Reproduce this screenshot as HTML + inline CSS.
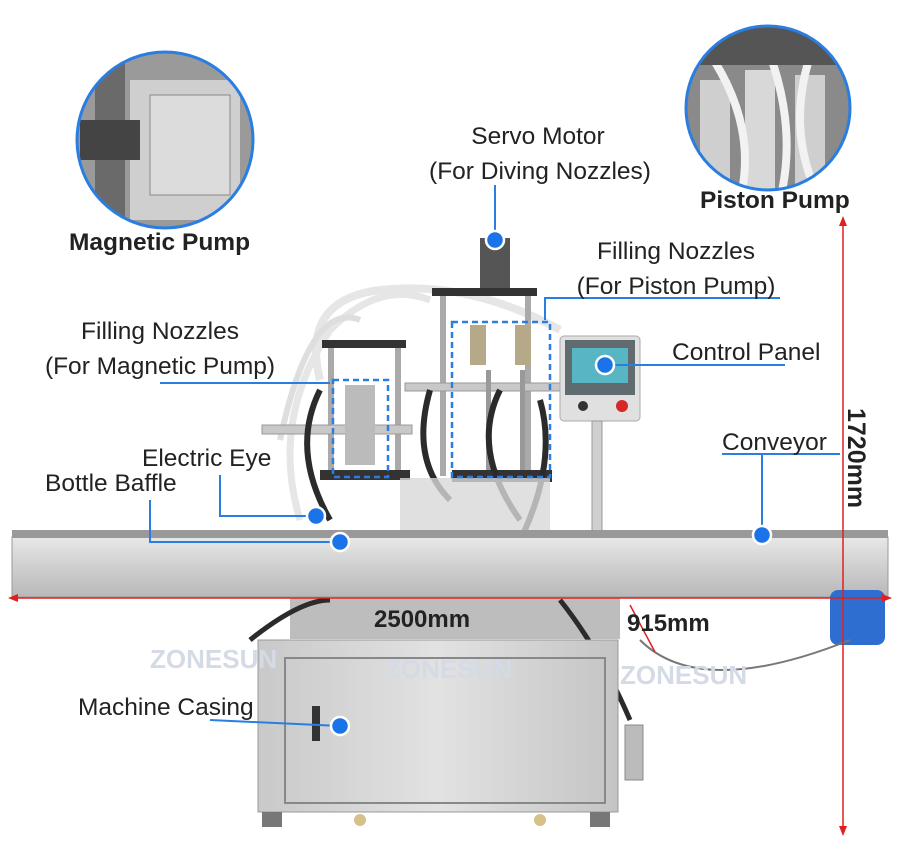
<!DOCTYPE html>
<html><head><meta charset="utf-8"><style>
html,body{margin:0;padding:0;background:#fff;}
svg{display:block}
text{font-family:"Liberation Sans",sans-serif;fill:#222;}
</style></head><body>
<svg width="900" height="864" viewBox="0 0 900 864" xmlns="http://www.w3.org/2000/svg">
<defs>
<linearGradient id="steel" x1="0" y1="0" x2="0" y2="1"><stop offset="0" stop-color="#e8e8e8"/><stop offset="0.5" stop-color="#cfcfcf"/><stop offset="1" stop-color="#b8b8b8"/></linearGradient>
<linearGradient id="cab" x1="0" y1="0" x2="1" y2="0"><stop offset="0" stop-color="#c9c9c9"/><stop offset="0.5" stop-color="#e2e2e2"/><stop offset="1" stop-color="#c4c4c4"/></linearGradient>
<clipPath id="c1"><circle cx="165" cy="140" r="88"/></clipPath>
<clipPath id="c2"><circle cx="768" cy="108" r="82"/></clipPath>
</defs>
<g clip-path="url(#c1)">
<rect x="70" y="40" width="200" height="200" fill="#9a9a9a"/>
<rect x="130" y="80" width="110" height="140" fill="#cfcfcf"/>
<rect x="95" y="60" width="30" height="170" fill="#6a6a6a"/>
<rect x="80" y="120" width="60" height="40" fill="#444"/>
<rect x="150" y="95" width="80" height="100" fill="#dcdcdc" stroke="#888"/>
</g>
<circle cx="165" cy="140" r="88" fill="none" stroke="#2a7de1" stroke-width="3"/>
<g clip-path="url(#c2)">
<rect x="680" y="20" width="180" height="180" fill="#8a8a8a"/>
<rect x="700" y="80" width="30" height="110" fill="#cfcfcf"/>
<rect x="745" y="70" width="30" height="120" fill="#d8d8d8"/>
<rect x="795" y="75" width="30" height="120" fill="#cfcfcf"/>
<path d="M700 40 Q760 120 740 200 M760 30 Q800 120 780 200 M820 30 Q780 120 820 200" stroke="#f2f2f2" stroke-width="8" fill="none"/>
<rect x="680" y="20" width="180" height="45" fill="#555"/>
</g>
<circle cx="768" cy="108" r="82" fill="none" stroke="#2a7de1" stroke-width="3"/>
<text x="69" y="250" font-size="24.5" font-weight="bold">Magnetic Pump</text>
<text x="700" y="208" font-size="24.5" font-weight="bold">Piston Pump</text>

<path d="M320 380 Q300 300 380 290 Q470 280 560 330" stroke="#e6e6e6" stroke-width="8" fill="none"/>
<path d="M300 520 Q270 420 330 330 Q380 280 430 300" stroke="#e6e6e6" stroke-width="7" fill="none"/>
<path d="M280 440 Q310 300 360 320" stroke="#dedede" stroke-width="6" fill="none"/>
<rect x="322" y="340" width="84" height="8" fill="#333"/>
<rect x="328" y="348" width="6" height="130" fill="#aaa"/>
<rect x="395" y="348" width="6" height="130" fill="#aaa"/>
<rect x="262" y="425" width="150" height="9" fill="#c8c8c8" stroke="#999"/>
<rect x="320" y="470" width="90" height="10" fill="#333"/>
<rect x="345" y="385" width="30" height="80" fill="#bbb"/>
<rect x="432" y="288" width="105" height="8" fill="#333"/>
<rect x="440" y="296" width="6" height="180" fill="#aaa"/>
<rect x="525" y="296" width="6" height="180" fill="#aaa"/>
<rect x="405" y="383" width="170" height="8" fill="#c8c8c8" stroke="#999"/>
<rect x="452" y="470" width="100" height="12" fill="#333"/>
<rect x="480" y="238" width="30" height="50" fill="#555"/>
<rect x="470" y="325" width="16" height="40" fill="#b5a98a"/><rect x="515" y="325" width="16" height="40" fill="#b5a98a"/>
<rect x="486" y="370" width="5" height="100" fill="#999"/><rect x="520" y="370" width="5" height="100" fill="#999"/>
<path d="M430 390 Q410 460 450 500 M500 390 Q470 450 520 520 M540 400 Q560 470 510 560" stroke="#2b2b2b" stroke-width="6" fill="none"/>
<path d="M320 390 Q290 450 330 520" stroke="#2b2b2b" stroke-width="6" fill="none"/>
<rect x="400" y="478" width="150" height="60" fill="#d8d8d8" opacity="0.8"/>
<rect x="560" y="336" width="80" height="85" rx="4" fill="#e0e0e0" stroke="#aaa"/>
<rect x="565" y="340" width="70" height="55" fill="#5f6b6e"/>
<rect x="572" y="348" width="56" height="35" fill="#58b6c4"/>
<circle cx="583" cy="406" r="5" fill="#333"/><circle cx="622" cy="406" r="6" fill="#d62828"/>
<rect x="592" y="421" width="10" height="215" fill="#cfcfcf" stroke="#999"/>
<rect x="12" y="537" width="876" height="60" fill="url(#steel)" stroke="#999"/>
<rect x="12" y="530" width="876" height="8" fill="#999"/>
<rect x="290" y="597" width="330" height="42" fill="#bdbdbd"/>
<path d="M250 640 Q300 600 330 600 M560 600 Q600 650 630 720" stroke="#2b2b2b" stroke-width="5" fill="none"/>
<rect x="258" y="640" width="360" height="172" fill="url(#cab)" stroke="#999"/>
<rect x="285" y="658" width="320" height="145" fill="none" stroke="#888" stroke-width="2"/>
<rect x="312" y="706" width="8" height="35" fill="#333"/>
<rect x="262" y="812" width="20" height="15" fill="#777"/><rect x="590" y="812" width="20" height="15" fill="#777"/>
<circle cx="360" cy="820" r="6" fill="#d8c08a"/><circle cx="540" cy="820" r="6" fill="#d8c08a"/>
<rect x="625" y="725" width="18" height="55" fill="#bbb" stroke="#888"/>
<rect x="830" y="590" width="55" height="55" rx="8" fill="#2e6ed0"/>
<path d="M640 640 Q700 700 850 640" stroke="#777" stroke-width="2" fill="none"/>

<g font-size="26" font-weight="bold">
<text x="150" y="668" style="fill:#d4dbe6">ZONESUN</text>
<text x="385" y="678" style="fill:#d4dbe6">ZONESUN</text>
<text x="620" y="684" style="fill:#d4dbe6">ZONESUN</text>
</g>

<line x1="12" y1="598" x2="888" y2="598" stroke="#e02020" stroke-width="1.5"/>
<line x1="843" y1="222" x2="843" y2="832" stroke="#e02020" stroke-width="1.5"/>
<polygon points="843,216 839,226 847,226" fill="#e02020"/><polygon points="843,836 839,826 847,826" fill="#e02020"/>
<polygon points="8,598 18,594 18,602" fill="#e02020"/><polygon points="892,598 882,594 882,602" fill="#e02020"/>
<line x1="630" y1="605" x2="655" y2="652" stroke="#e02020" stroke-width="1.5"/>
<text x="374" y="627" font-size="24" font-weight="bold">2500mm</text>
<text x="627" y="631" font-size="24" font-weight="bold">915mm</text>
<text transform="translate(848,408) rotate(90)" font-size="25" font-weight="bold">1720mm</text>

<g stroke="#2a7de1" stroke-width="2" fill="none">
<polyline points="495,185 495,240"/>
<polyline points="545,320 545,298 780,298"/>
<polyline points="605,365 785,365"/>
<polyline points="160,383 330,383"/>
<polyline points="220,475 220,516 316,516"/>
<polyline points="150,500 150,542 340,542"/>
<polyline points="722,454 840,454"/>
<polyline points="762,454 762,535"/>
<polyline points="210,720 340,726"/>
</g>
<g stroke="#2a7de1" stroke-width="2.5" fill="none" stroke-dasharray="6,4">
<rect x="333" y="380" width="55" height="97"/>
<rect x="452" y="322" width="98" height="155"/>
</g>
<g fill="#1a73e8" stroke="#fff" stroke-width="2.5">
<circle cx="495" cy="240" r="9"/>
<circle cx="605" cy="365" r="9"/>
<circle cx="316" cy="516" r="9"/>
<circle cx="340" cy="542" r="9"/>
<circle cx="762" cy="535" r="9"/>
<circle cx="340" cy="726" r="9"/>
</g>

<g font-size="24.5">
<text x="538" y="144" text-anchor="middle">Servo Motor</text>
<text x="540" y="179" text-anchor="middle">(For Diving Nozzles)</text>
<text x="676" y="259" text-anchor="middle">Filling Nozzles</text>
<text x="676" y="294" text-anchor="middle">(For Piston Pump)</text>
<text x="160" y="339" text-anchor="middle">Filling Nozzles</text>
<text x="160" y="374" text-anchor="middle">(For Magnetic Pump)</text>
<text x="672" y="360">Control Panel</text>
<text x="142" y="466">Electric Eye</text>
<text x="45" y="491">Bottle Baffle</text>
<text x="722" y="450">Conveyor</text>
<text x="78" y="715">Machine Casing</text>
</g>
</svg>
</body></html>
